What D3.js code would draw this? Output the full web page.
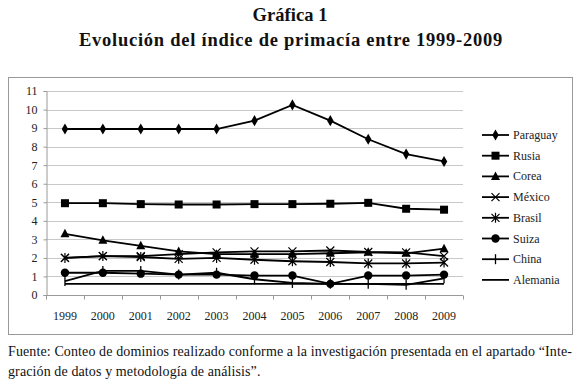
<!DOCTYPE html>
<html>
<head>
<meta charset="utf-8">
<script src="https://cdn.jsdelivr.net/npm/d3@7"></script>
<style>
body { margin: 0; background: #fff; }
svg { display: block; }
</style>
</head>
<body>
<div id="chart"></div>
<script>
// data
years = ['1999', '2000', '2001', '2002', '2003', '2004', '2005', '2006', '2007', '2008', '2009'];
paraguay = [8.95, 8.95, 8.95, 8.95, 8.95, 9.4, 10.25, 9.4, 8.4, 7.6, 7.2];
rusia = [4.95, 4.95, 4.9, 4.88, 4.88, 4.9, 4.9, 4.92, 4.97, 4.65, 4.6];
corea = [3.3, 2.95, 2.65, 2.35, 2.2, 2.2, 2.2, 2.25, 2.3, 2.25, 2.5];
mexico = [2.0, 2.1, 2.1, 2.2, 2.3, 2.35, 2.35, 2.4, 2.32, 2.3, 2.1];
brasil = [2.0, 2.1, 2.05, 1.95, 2.0, 1.9, 1.82, 1.78, 1.7, 1.7, 1.75];
suiza = [1.2, 1.2, 1.15, 1.1, 1.1, 1.05, 1.05, 0.6, 1.05, 1.05, 1.1];
china = [0.75, 1.3, 1.3, 1.1, 1.2, 0.85, 0.65, 0.6, 0.6, 0.55, 0.9];
alemania = [0.6, 0.6, 0.6, 0.6, 0.6, 0.6, 0.6, 0.6, 0.6, 0.6, 0.6];
y_ticks = d3.range(0, 12);

series = [
	{name: 'Paraguay', values: paraguay, marker: 'diamond'},
	{name: 'Rusia', values: rusia, marker: 'square'},
	{name: 'Corea', values: corea, marker: 'triangle'},
	{name: 'México', values: mexico, marker: 'x'},
	{name: 'Brasil', values: brasil, marker: 'star'},
	{name: 'Suiza', values: suiza, marker: 'circle'},
	{name: 'China', values: china, marker: 'plus'},
	{name: 'Alemania', values: alemania, marker: 'none'}
];

// chart settings
width = 580;
height = 389;
plot = {left: 46, right: 463, top: 91, bottom: 295};
font = 'Liberation Serif';

var svg = d3.select('#chart')
	.append('svg')
	.attr('width', width)
	.attr('height', height);

// stretch a text to a given width with letter spacing
function fit(sel, w) {
	var n = sel.text().length;
	var natural = sel.node().getComputedTextLength();
	var ls = (w - natural) / n;
	sel.attr('letter-spacing', ls);
	return ls;
}

// titles
var t1 = svg.append('text')
	.attr('x', 290).attr('y', 21)
	.attr('text-anchor', 'middle')
	.attr('font-family', font)
	.attr('font-size', 18.5).attr('font-weight', 'bold')
	.attr('fill', '#111')
	.text('Gráfica 1');
fit(t1, 75);
var t2 = svg.append('text')
	.attr('x', 291).attr('y', 46)
	.attr('text-anchor', 'middle')
	.attr('font-family', font)
	.attr('font-size', 18.5).attr('font-weight', 'bold')
	.attr('fill', '#111')
	.text('Evolución del índice de primacía entre 1999-2009');
fit(t2, 424);

// frame
svg.append('rect')
	.attr('x', 8.5).attr('y', 77.5)
	.attr('width', 564).attr('height', 257)
	.attr('fill', 'none').attr('stroke', '#999');

// scales
x_scale = d3.scaleBand()
	.domain(years)
	.range([plot.left, plot.right]);

y_scale = d3.scaleLinear()
	.domain([0, 11])
	.range([plot.bottom, plot.top]);

// grid
svg.append('g')
	.selectAll('line')
	.data(y_ticks.slice(1))
	.enter()
	.append('line')
	.attr('x1', plot.left).attr('x2', plot.right)
	.attr('y1', (d) => Math.round(y_scale(d)) + 0.5)
	.attr('y2', (d) => Math.round(y_scale(d)) + 0.5)
	.attr('stroke', '#c8c8c8');

// y axis
var y_axis = svg.append('g')
	.attr('transform', 'translate(' + (plot.left + 0.5) + ',0)')
	.call(d3.axisLeft(y_scale).tickValues(y_ticks).tickSize(3).tickPadding(6));
y_axis.attr('font-family', font).attr('font-size', 12);
y_axis.select('.domain').attr('stroke', '#999');
y_axis.selectAll('.tick line').attr('stroke', '#999');
y_axis.selectAll('text').attr('fill', '#222');

// x axis
var x_axis = svg.append('g')
	.attr('transform', 'translate(0,' + (Math.round(plot.bottom) + 0.5) + ')');
x_axis.append('line')
	.attr('x1', plot.left).attr('x2', plot.right)
	.attr('stroke', '#999');
x_axis.selectAll('line.tk')
	.data(years.concat(['end']))
	.enter()
	.append('line')
	.attr('class', 'tk')
	.attr('x1', (d, i) => Math.round(plot.left + i * x_scale.bandwidth()) + 0.5)
	.attr('x2', (d, i) => Math.round(plot.left + i * x_scale.bandwidth()) + 0.5)
	.attr('y1', 0).attr('y2', 4)
	.attr('stroke', '#999');
x_axis.selectAll('text')
	.data(years)
	.enter()
	.append('text')
	.attr('x', (d) => x_scale(d) + x_scale.bandwidth() / 2)
	.attr('y', 24)
	.attr('text-anchor', 'middle')
	.attr('font-family', font)
	.attr('font-size', 12)
	.attr('fill', '#222')
	.text((d) => d);

// lines
var line = d3.line()
	.x((d, i) => x_scale(years[i]) + x_scale.bandwidth() / 2)
	.y((d) => y_scale(d));

function draw_marker(g, type, cx, cy) {
	if (type == 'diamond') {
		g.append('path').attr('d', d3.symbol(d3.symbolDiamond, 36)()).attr('transform', 'translate(' + cx + ',' + cy + ')').attr('fill', '#000');
	} else if (type == 'square') {
		g.append('rect').attr('x', cx - 4).attr('y', cy - 4).attr('width', 8).attr('height', 8).attr('fill', '#000');
	} else if (type == 'triangle') {
		g.append('path').attr('d', 'M' + cx + ',' + (cy - 5) + 'L' + (cx + 4.5) + ',' + (cy + 3.5) + 'L' + (cx - 4.5) + ',' + (cy + 3.5) + 'Z').attr('fill', '#000');
	} else if (type == 'x') {
		g.append('path').attr('d', 'M' + (cx - 4) + ',' + (cy - 4) + 'L' + (cx + 4) + ',' + (cy + 4) + 'M' + (cx + 4) + ',' + (cy - 4) + 'L' + (cx - 4) + ',' + (cy + 4)).attr('stroke', '#000').attr('stroke-width', 1.2);
	} else if (type == 'star') {
		g.append('path').attr('d', 'M' + (cx - 4) + ',' + (cy - 4) + 'L' + (cx + 4) + ',' + (cy + 4) + 'M' + (cx + 4) + ',' + (cy - 4) + 'L' + (cx - 4) + ',' + (cy + 4) + 'M' + cx + ',' + (cy - 5) + 'L' + cx + ',' + (cy + 5)).attr('stroke', '#000').attr('stroke-width', 1.2);
	} else if (type == 'circle') {
		g.append('circle').attr('cx', cx).attr('cy', cy).attr('r', 4.2).attr('fill', '#000');
	} else if (type == 'plus') {
		g.append('path').attr('d', 'M' + cx + ',' + (cy - 5) + 'L' + cx + ',' + (cy + 5)).attr('stroke', '#000').attr('stroke-width', 1.3);
	}
}

series.forEach((s) => {
	var g = svg.append('g');
	g.append('path')
		.attr('d', line(s.values))
		.attr('fill', 'none')
		.attr('stroke', '#000')
		.attr('stroke-width', 1.8);
	s.values.forEach((v, i) => {
		draw_marker(g, s.marker, x_scale(years[i]) + x_scale.bandwidth() / 2, y_scale(v));
	});
});

// legend
var legend = svg.append('g');
series.forEach((s, i) => {
	var ly = 135 + i * 20.7;
	var g = legend.append('g');
	g.append('line')
		.attr('x1', 482).attr('x2', 509)
		.attr('y1', ly).attr('y2', ly)
		.attr('stroke', '#000').attr('stroke-width', 1.8);
	draw_marker(g, s.marker, 495.5, ly);
	g.append('text')
		.attr('x', 513).attr('y', ly + 4)
		.attr('font-family', font)
		.attr('font-size', 12)
		.attr('fill', '#222')
		.text(s.name);
});

// footnote
var f1 = svg.append('text')
	.attr('x', 8).attr('y', 356)
	.attr('font-family', font)
	.attr('font-size', 14)
	.attr('fill', '#111')
	.text('Fuente: Conteo de dominios realizado conforme a la investigación presentada en el apartado “Inte-');
var ls = fit(f1, 564);
svg.append('text')
	.attr('x', 8).attr('y', 376)
	.attr('font-family', font)
	.attr('font-size', 14)
	.attr('fill', '#111')
	.attr('letter-spacing', ls)
	.text('gración de datos y metodología de análisis”.');
</script>
</body>
</html>
